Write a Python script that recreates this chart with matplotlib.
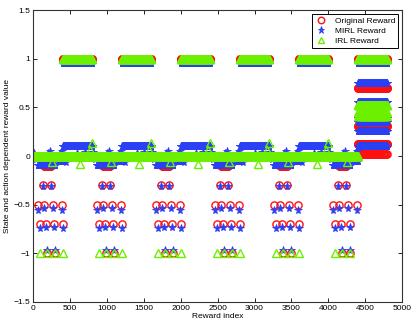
import numpy as np
import matplotlib.pyplot as plt

# reward index layout: repeating blocks of 800 up to 4400, then a final block
period_starts = [0, 800, 1600, 2400, 3200, 4000]
block_end = 4400
final_block = (4400, 4800)

# dense runs inside one block: (start offset, end offset, value)
orig_runs = [(0, 800, 0.0), (400, 800, 1.0), (150, 240, -0.1)]
mirl_runs = [(400, 800, 0.96), (400, 800, 0.1), (60, 300, -0.09), (340, 430, -0.05)]
irl_runs = [(0, 800, 0.0), (400, 800, 1.0)]

# single points inside one block: (offset, value)
orig_pts = [(135, -0.3), (245, -0.3),
            (65, -0.5), (150, -0.5), (262, -0.5), (389, -0.5),
            (92, -0.7), (172, -0.7), (287, -0.7), (404, -0.7),
            (190, -1.0), (298, -1.0)]
mirl_pts = [(135, -0.31), (245, -0.31),
            (65, -0.55), (150, -0.53), (262, -0.53), (389, -0.56),
            (92, -0.74), (172, -0.73), (287, -0.73), (404, -0.74),
            (190, -0.97), (298, -0.97),
            (10, 0.03), (35, -0.03), (205, 0.03), (230, 0.05), (360, 0.03),
            (390, 0.05), (810, 0.04), (440, -0.06), (600, 0.03), (700, 0.04)]
irl_pts = [(95, -1.0), (190, -1.0), (298, -1.0), (402, -1.0),
           (250, -0.06), (640, -0.08), (770, 0.06), (800, 0.13)]

# final block levels: dense ones and sparse ones
orig_final = [1.0, 0.70, 0.31, 0.12]
orig_final_sparse = [0.02]
mirl_final = [0.96, 0.75, 0.56, 0.39, 0.35, 0.26, 0.10]
irl_final = [1.0, 0.52]
irl_final_sparse = [0.45, 0.41]


def build(runs, pts, final, final_sparse):
    xs, ys = [], []
    for p in period_starts:
        for a, b, v in runs:
            lo, hi = p + a, min(p + b, block_end)
            if lo >= hi:
                continue
            x = np.arange(lo, hi + 1, 4)
            xs.append(x)
            ys.append(np.full(len(x), v))
        for o, v in pts:
            if p + o <= block_end:
                xs.append(np.array([p + o]))
                ys.append(np.array([v]))
    for v in final:
        x = np.arange(final_block[0], final_block[1] + 1, 4)
        xs.append(x)
        ys.append(np.full(len(x), v))
    for v in final_sparse:
        x = np.arange(final_block[0], final_block[1] + 1, 12)
        xs.append(x)
        ys.append(np.full(len(x), v))
    return np.concatenate(xs), np.concatenate(ys)


ox, oy = build(orig_runs, orig_pts, orig_final, orig_final_sparse)
mx, my = build(mirl_runs, mirl_pts, mirl_final, [])
ix, iy = build(irl_runs, irl_pts, irl_final, irl_final_sparse)

plt.rcParams['font.family'] = ['Liberation Sans', 'DejaVu Sans']

fig = plt.figure(figsize=(4.15, 3.24), dpi=100)
ax = fig.add_axes([0.08, 0.068, 0.889, 0.901])

ax.plot(ox, oy, 'o', ls='none', mfc='none', mec='#ff1010', ms=5.2, mew=1.0,
        label='Original Reward')
ax.plot(mx, my, '*', ls='none', color='#2a40f5', ms=5.8, mew=0.6,
        label='MIRL Reward')
ax.plot(ix, iy, '^', ls='none', mfc='none', mec='#6cf000', ms=5.2, mew=1.0,
        label='IRL Reward')

ax.set_xlim(0, 5000)
ax.set_ylim(-1.5, 1.5)
ax.set_xticks(np.arange(0, 5001, 500))
ax.set_yticks([-1.5, -1, -0.5, 0, 0.5, 1, 1.5])
ax.set_yticklabels(['\u22121.5', '\u22121', '\u22120.5', '0', '0.5', '1', '1.5'])
ax.tick_params(direction='in', length=3, width=0.6, labelsize=6,
               top=True, right=True, pad=2)
for s in ax.spines.values():
    s.set_linewidth(0.8)
    s.set_color('#333333')

ax.set_xlabel('Reward index', fontsize=6, labelpad=1)
ax.set_ylabel('State and action dependent reward value', fontsize=6, labelpad=2)

leg = ax.legend(loc='upper right', fontsize=6, fancybox=False, framealpha=1,
                edgecolor='black', handlelength=1.6, borderpad=0.35,
                labelspacing=0.25, borderaxespad=0.5, markerscale=0.9)
leg.get_frame().set_linewidth(0.7)

fig.savefig('out.png', dpi=100)
